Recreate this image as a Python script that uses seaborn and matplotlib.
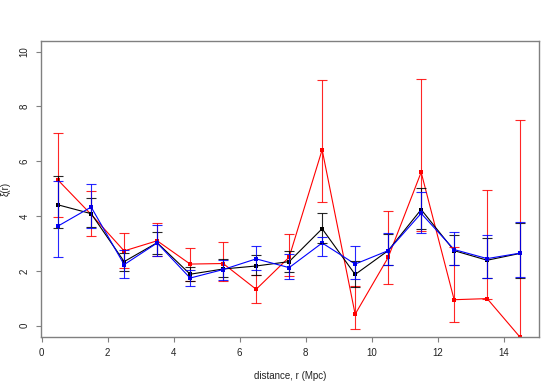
import pandas as pd
import matplotlib.pyplot as plt
import seaborn as sns

# distance bins (Mpc)
r = [0.5, 1.5, 2.5, 3.5, 4.5, 5.5, 6.5, 7.5, 8.5, 9.5, 10.5, 11.5, 12.5, 13.5, 14.5]

# red series
red_xi = [5.31, 4.06, 2.73, 3.10, 2.25, 2.27, 1.33, 2.50, 6.42, 0.42, 2.49, 5.60, 0.95, 0.99, -0.42]
red_hi = [7.03, 4.93, 3.37, 3.76, 2.85, 3.05, 1.85, 3.33, 8.95, 1.45, 4.19, 9.01, 2.86, 4.95, 7.52]
red_lo = [3.97, 3.27, 2.12, 2.55, 1.62, 1.64, 0.82, 1.83, 4.53, -0.11, 1.52, 3.45, 0.15, 0.99, -2.00]

# black series
black_xi = [4.41, 4.09, 2.34, 3.03, 1.88, 2.07, 2.18, 2.34, 3.54, 1.87, 2.74, 4.24, 2.74, 2.39, 2.64]
black_hi = [5.48, 4.67, 2.64, 3.42, 2.16, 2.44, 2.57, 2.74, 4.11, 2.37, 3.36, 5.03, 3.32, 3.20, 3.76]
black_lo = [3.56, 3.60, 2.00, 2.63, 1.62, 1.77, 1.84, 1.95, 3.03, 1.42, 2.23, 3.54, 2.23, 1.75, 1.76]

# blue series
blue_xi = [3.64, 4.33, 2.23, 3.02, 1.74, 2.05, 2.44, 2.12, 3.02, 2.25, 2.74, 4.10, 2.78, 2.45, 2.65]
blue_hi = [5.27, 5.16, 2.78, 3.67, 2.02, 2.40, 2.91, 2.63, 3.25, 2.91, 3.38, 4.88, 3.43, 3.32, 3.78]
blue_lo = [2.50, 3.57, 1.73, 2.53, 1.44, 1.68, 2.03, 1.72, 2.56, 1.71, 2.23, 3.38, 2.23, 1.76, 1.78]

series = {
    'red': (red_xi, red_lo, red_hi),
    'black': (black_xi, black_lo, black_hi),
    'blue': (blue_xi, blue_lo, blue_hi),
}
colors = {'red': '#ff0000', 'black': '#000000', 'blue': '#0000ff'}

rows = []
for name, (xi, lo, hi) in series.items():
    for i in range(len(r)):
        rows.append({'r': r[i], 'xi': xi[i], 'lo': lo[i], 'hi': hi[i], 'set': name})
df = pd.DataFrame(rows)

sns.set_theme(style="ticks")
plt.rcParams['font.family'] = ['Liberation Sans', 'DejaVu Sans']

fig = plt.figure(figsize=(5.6, 3.88), dpi=100)
ax = fig.add_axes([0.0732, 0.1322, 0.8898, 0.7629])

sns.lineplot(data=df, x='r', y='xi', hue='set', palette=colors, marker='s',
             markersize=3, markeredgewidth=0, linewidth=0.8, sort=False,
             errorbar=None, legend=False, ax=ax)

for name, d in df.groupby('set', sort=False):
    ax.errorbar(d['r'], d['xi'], yerr=[d['xi'] - d['lo'], d['hi'] - d['xi']],
                fmt='none', ecolor=colors[name], elinewidth=0.8, capsize=3.6,
                capthick=0.8, alpha=0.85)

ax.set_xlim(-0.02, 15.08)
ax.set_ylim(-0.4, 10.4)
ax.set_xticks(range(0, 15, 2))
ax.set_yticks(range(0, 11, 2))

for s in ax.spines.values():
    s.set_visible(True)
    s.set_color('#808080')
    s.set_linewidth(1.0)
ax.tick_params(axis='both', direction='out', length=3.6, width=0.8, color='#808080',
               labelsize=7, labelcolor='#222222', pad=4.5)
for lab in ax.get_yticklabels():
    lab.set_rotation(90)
    lab.set_va('center')

ax.set_xlabel('distance, r (Mpc)', fontsize=7, color='#222222')
ax.set_ylabel('ξ(r)', fontsize=7, color='#222222')
ax.xaxis.set_label_coords(0.5, -0.1328)
ax.xaxis.label.set_va('center')
ax.yaxis.set_label_coords(-0.0713, 0.5)
ax.yaxis.label.set_va('center')

fig.savefig('out.png', dpi=100)
